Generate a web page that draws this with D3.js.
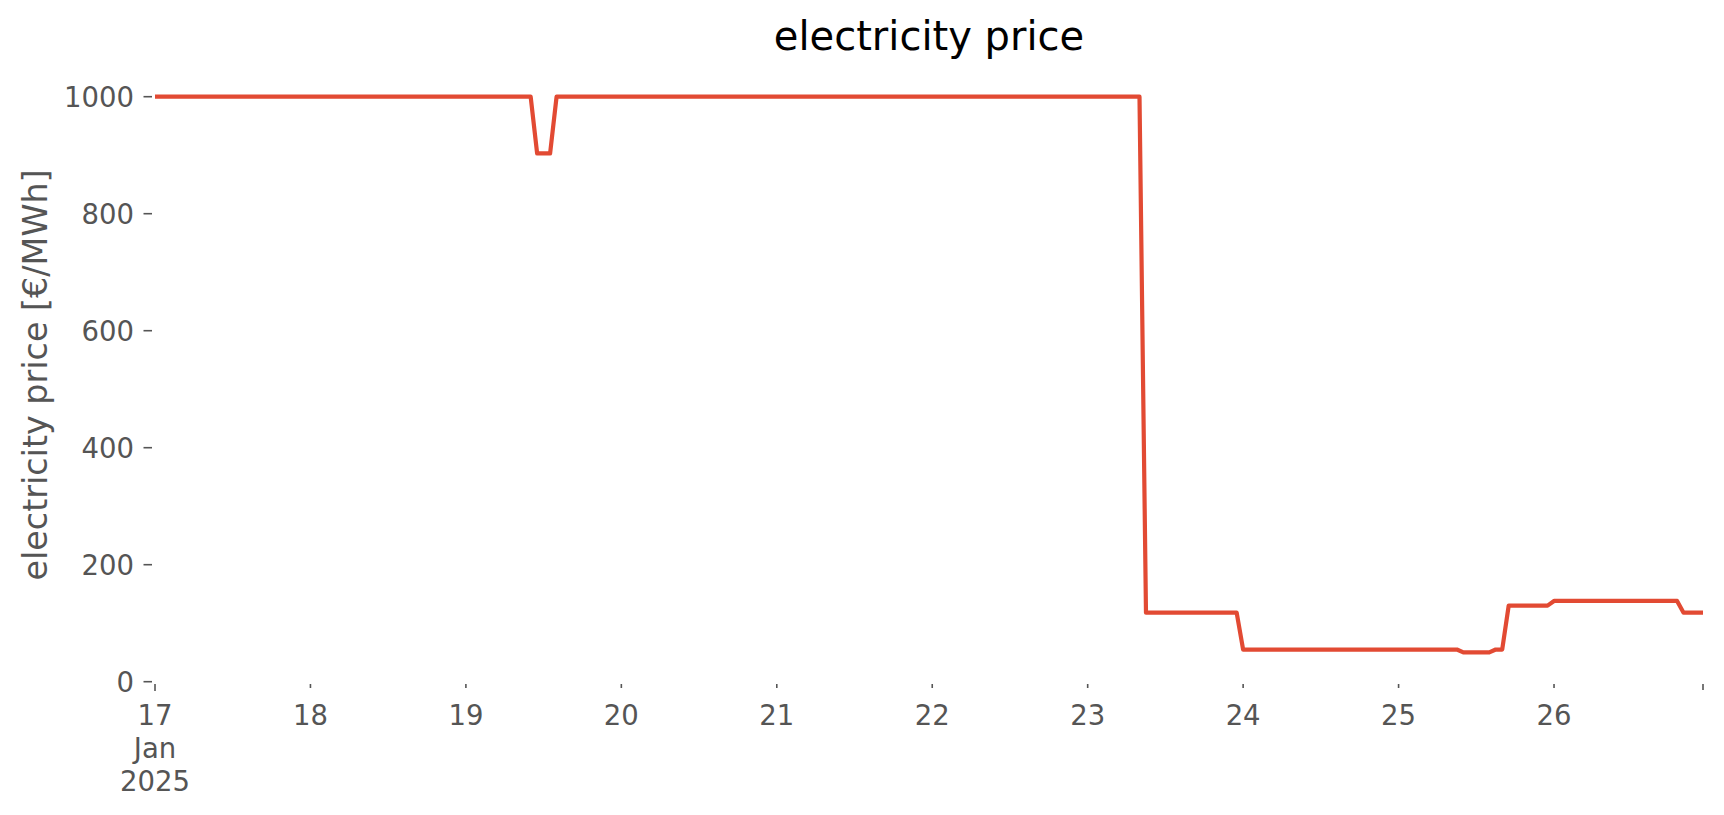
<!DOCTYPE html>
<html>
<head>
<meta charset="utf-8">
<script src="https://cdn.jsdelivr.net/npm/d3@7"></script>
<style>
  html, body { margin: 0; padding: 0; background: #ffffff; }
  svg { display: block; }
  text { font-family: "DejaVu Sans", sans-serif; }
</style>
</head>
<body>
<svg id="chart" width="1724" height="815"></svg>
<script>
// ---- data (hourly electricity price, 17 Jan 2025 00:00 .. 26 Jan 2025 23:00) ----
const startTime = "2025-01-17T00:00:00";
const day17 = [1000,1000,1000,1000,1000,1000,1000,1000,1000,1000,1000,1000,1000,1000,1000,1000,1000,1000,1000,1000,1000,1000,1000,1000];
const day18 = [1000,1000,1000,1000,1000,1000,1000,1000,1000,1000,1000,1000,1000,1000,1000,1000,1000,1000,1000,1000,1000,1000,1000,1000];
const day19 = [1000,1000,1000,1000,1000,1000,1000,1000,1000,1000,1000,903,903,903,1000,1000,1000,1000,1000,1000,1000,1000,1000,1000];
const day20 = [1000,1000,1000,1000,1000,1000,1000,1000,1000,1000,1000,1000,1000,1000,1000,1000,1000,1000,1000,1000,1000,1000,1000,1000];
const day21 = [1000,1000,1000,1000,1000,1000,1000,1000,1000,1000,1000,1000,1000,1000,1000,1000,1000,1000,1000,1000,1000,1000,1000,1000];
const day22 = [1000,1000,1000,1000,1000,1000,1000,1000,1000,1000,1000,1000,1000,1000,1000,1000,1000,1000,1000,1000,1000,1000,1000,1000];
const day23 = [1000,1000,1000,1000,1000,1000,1000,1000,1000,118,118,118,118,118,118,118,118,118,118,118,118,118,118,118];
const day24 = [55,55,55,55,55,55,55,55,55,55,55,55,55,55,55,55,55,55,55,55,55,55,55,55];
const day25 = [55,55,55,55,55,55,55,55,55,55,50,50,50,50,50,55,55,130,130,130,130,130,130,130];
const day26 = [138,138,138,138,138,138,138,138,138,138,138,138,138,138,138,138,138,138,138,138,118,118,118,118];
const prices = [].concat(day17, day18, day19, day20, day21, day22, day23, day24, day25, day26);

const yTicks = [0, 200, 400, 600, 800, 1000];
const xTickDays = ["2025-01-17","2025-01-18","2025-01-19","2025-01-20","2025-01-21","2025-01-22","2025-01-23","2025-01-24","2025-01-25","2025-01-26"];
const firstTickLines = ["17", "Jan", "2025"];
const titleText = "electricity price";
const yLabelText = "electricity price [€/MWh]";

// ---- build series ----
const t0 = new Date(startTime);
const series = prices.map((v, i) => ({ t: new Date(t0.getTime() + i * 3600 * 1000), v: v }));

const svg = d3.select("#chart");
const left = 155, right = 1703, yZero = 681.7, yThousand = 96.7;

const x = d3.scaleTime()
  .domain([series[0].t, series[series.length - 1].t])
  .range([left, right]);
const y = d3.scaleLinear()
  .domain([0, 1000])
  .range([yZero, yThousand]);

const grey = "#555555";

// y ticks
const yAxisG = svg.append("g");
yTicks.forEach(v => {
  const yy = y(v);
  yAxisG.append("line")
    .attr("x1", 143.5).attr("x2", 152)
    .attr("y1", yy).attr("y2", yy)
    .attr("stroke", grey).attr("stroke-width", 1.6);
  yAxisG.append("text")
    .attr("x", 134).attr("y", yy)
    .attr("dy", "0.36em")
    .attr("text-anchor", "end")
    .attr("font-size", 27.5)
    .attr("fill", grey)
    .text(v);
});

// x ticks
const xAxisG = svg.append("g");
xTickDays.forEach((d, i) => {
  const xx = x(new Date(d + "T00:00:00"));
  xAxisG.append("line")
    .attr("x1", xx).attr("x2", xx)
    .attr("y1", 684).attr("y2", i === 0 ? 691 : 688)
    .attr("stroke", grey).attr("stroke-width", 1.6);
  if (i === 0) {
    firstTickLines.forEach((s, k) => {
      xAxisG.append("text")
        .attr("x", xx).attr("y", 725 + k * 33)
        .attr("text-anchor", "middle")
        .attr("font-size", 27.5)
        .attr("fill", grey)
        .text(s);
    });
  } else {
    xAxisG.append("text")
      .attr("x", xx).attr("y", 725)
      .attr("text-anchor", "middle")
      .attr("font-size", 27.5)
      .attr("fill", grey)
      .text(d3.timeFormat("%d")(new Date(d + "T00:00:00")));
  }
});
// end tick
const xEnd = x(series[series.length - 1].t);
xAxisG.append("line")
  .attr("x1", xEnd).attr("x2", xEnd)
  .attr("y1", 684).attr("y2", 690)
  .attr("stroke", grey).attr("stroke-width", 1.6);

// line
const line = d3.line().x(d => x(d.t)).y(d => y(d.v));
svg.append("path")
  .datum(series)
  .attr("fill", "none")
  .attr("stroke", "#E24A33")
  .attr("stroke-width", 4.2)
  .attr("stroke-linejoin", "round")
  .attr("stroke-linecap", "butt")
  .attr("d", line);

// title
svg.append("text")
  .attr("x", (left + right) / 2).attr("y", 50)
  .attr("text-anchor", "middle")
  .attr("font-size", 40)
  .attr("fill", "#000000")
  .text(titleText);

// y label
svg.append("text")
  .attr("transform", "translate(47,375) rotate(-90)")
  .attr("text-anchor", "middle")
  .attr("font-size", 33.4)
  .attr("fill", grey)
  .text(yLabelText);
</script>
</body>
</html>
